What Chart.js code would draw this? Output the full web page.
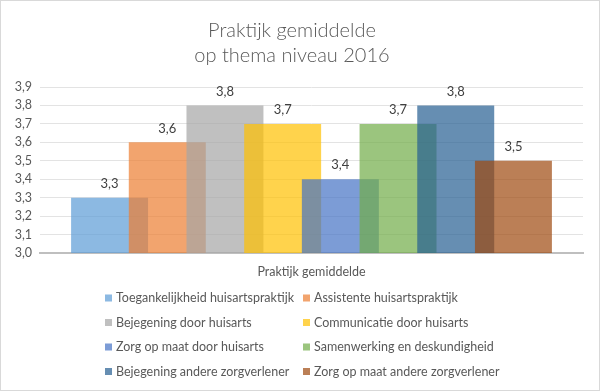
<!DOCTYPE html>
<html>
<head>
<meta charset="utf-8">
<script src="https://cdn.jsdelivr.net/npm/chart.js@4.4.1/dist/chart.umd.min.js"></script>
<style>
  html, body { margin: 0; padding: 0; background: #fff; }
  #wrap { width: 600px; height: 391px; box-sizing: border-box; border: 1px solid #d9d9d9; position: relative; }
  canvas { display: block; }
</style>
</head>
<body>
<div id="wrap"><canvas id="c" width="598" height="389"></canvas></div>
<script>
const titleLines = ["Praktijk gemiddelde", "op thema niveau 2016"];
const categories = ["Praktijk gemiddelde"];
const seriesNames = [
  "Toegankelijkheid huisartspraktijk",
  "Assistente huisartspraktijk",
  "Bejegening door huisarts",
  "Communicatie door huisarts",
  "Zorg op maat door huisarts",
  "Samenwerking en deskundigheid",
  "Bejegening andere zorgverlener",
  "Zorg op maat andere zorgverlener"
];
const seriesValues = [3.3, 3.6, 3.8, 3.7, 3.4, 3.7, 3.8, 3.5];
const seriesColors = [
  "rgba(91,155,213,0.7)",
  "rgba(237,125,49,0.7)",
  "rgba(165,165,165,0.7)",
  "rgba(255,192,0,0.7)",
  "rgba(68,114,196,0.7)",
  "rgba(112,173,71,0.7)",
  "rgba(37,94,145,0.7)",
  "rgba(158,72,14,0.7)"
];
const yTicks = { min: 3.0, max: 3.9, step: 0.1 };

const FONT = "Lato, 'Open Sans', sans-serif";
const fmt = v => v.toFixed(1).replace('.', ',');

const datasets = seriesNames.map((name, i) => ({
  label: name,
  data: [seriesValues[i]],
  backgroundColor: seriesColors[i],
  borderWidth: 0,
  categoryPercentage: 0.85,
  barPercentage: 1.334
}));

// draw datasets first-to-last so later series overlap earlier ones
const drawOrder = {
  id: 'drawOrder',
  beforeDatasetsDraw(chart) {
    const ctx = chart.ctx;
    const a = chart.chartArea;
    ctx.save();
    ctx.beginPath();
    ctx.rect(a.left, a.top - 1, a.right - a.left, a.bottom - a.top + 1);
    ctx.clip();
    chart.data.datasets.forEach((ds, i) => {
      const meta = chart.getDatasetMeta(i);
      if (!meta.hidden) meta.controller.draw();
    });
    ctx.restore();
    return false;
  }
};

const dataLabels = {
  id: 'dataLabels',
  afterDraw(chart) {
    const ctx = chart.ctx;
    ctx.save();
    ctx.font = "13px " + FONT;
    ctx.fillStyle = "#404040";
    ctx.textAlign = "center";
    ctx.textBaseline = "middle";
    chart.data.datasets.forEach((ds, i) => {
      const meta = chart.getDatasetMeta(i);
      meta.data.forEach((bar, j) => {
        ctx.fillText(fmt(ds.data[j]), bar.x, bar.y - 14);
      });
    });
    ctx.restore();
  }
};

const gridLegend = {
  id: 'gridLegend',
  afterDraw(chart) {
    const ctx = chart.ctx;
    ctx.save();
    ctx.font = "12.5px " + FONT;
    ctx.textAlign = "left";
    ctx.textBaseline = "middle";
    const colX = [104, 302];
    const rowY0 = 297, rowDY = 24.5;
    chart.data.datasets.forEach((ds, i) => {
      const col = i % 2, row = Math.floor(i / 2);
      const x = colX[col], y = rowY0 + row * rowDY;
      ctx.fillStyle = ds.backgroundColor;
      ctx.fillRect(x, y - 3.5, 7, 7);
      ctx.fillStyle = "#595959";
      ctx.fillText(ds.label, x + 11, y);
    });
    ctx.restore();
  }
};

new Chart(document.getElementById('c'), {
  type: 'bar',
  data: { labels: categories, datasets },
  plugins: [drawOrder, dataLabels, gridLegend],
  options: {
    responsive: false,
    animation: false,
    layout: { padding: { left: 0, right: 16, top: 0, bottom: 0 } },
    plugins: {
      legend: { display: false },
      tooltip: { enabled: false },
      title: {
        display: true,
        text: titleLines,
        color: "#595959",
        font: { family: FONT, size: 20, weight: 300, lineHeight: 1.25 },
        padding: { top: 17, bottom: 19 }
      }
    },
    scales: {
      x: {
        grid: { display: false },
        border: { color: "#bfbfbf", width: 2 },
        ticks: { color: "#595959", font: { family: FONT, size: 12.5 }, padding: 3 },
        afterFit: s => { s.height = 137; }
      },
      y: {
        min: yTicks.min,
        max: yTicks.max,
        ticks: {
          stepSize: yTicks.step,
          color: "#595959",
          font: { family: FONT, size: 12.5 },
          padding: 8,
          callback: v => fmt(v)
        },
        grid: { color: "#e3e3e3", drawTicks: false },
        border: { display: false },
        afterFit: s => { s.width = 39; }
      }
    }
  }
});
</script>
</body>
</html>
